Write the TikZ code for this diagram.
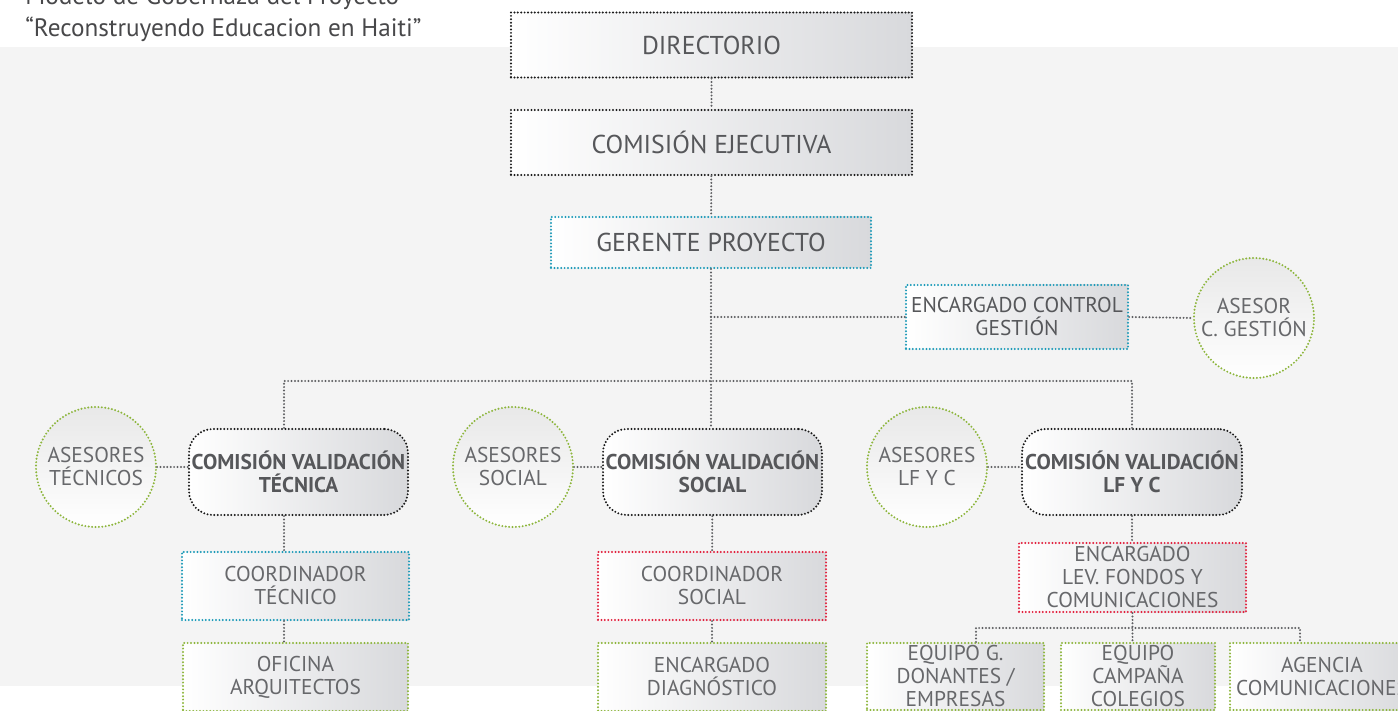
\documentclass[tikz,border=0pt]{standalone}
\usepackage{fontspec}
\setmainfont{PT Sans}
\usetikzlibrary{positioning}

\definecolor{txtgris}{HTML}{67686B}
\definecolor{txtosc}{HTML}{56575A}
\definecolor{titulogris}{HTML}{48484A}
\definecolor{lineagris}{HTML}{5E5F62}
\definecolor{bordeteal}{HTML}{1C9AB8}
\definecolor{bordered}{HTML}{E2203D}
\definecolor{bordeverde}{HTML}{8DB63C}
\definecolor{bordenegro}{HTML}{1A1A1A}
\definecolor{fondo}{HTML}{F4F4F4}
\definecolor{sombra}{HTML}{D8D9DC}

\begin{document}
\begin{tikzpicture}[x=0.5pt, y=-0.5pt,
  puntos/.style={line width=1.1pt, line cap=round, dash pattern=on 0pt off 1.7pt},
  caja/.style={puntos, left color=white, right color=sombra, align=center, text=txtgris,
    inner sep=0pt, font=\fontsize{10.7}{11.5}\selectfont},
  cajagrande/.style={caja, draw=bordenegro, text=txtosc, font=\fontsize{12.9}{14}\selectfont,
    minimum width=200.5pt, minimum height=32.5pt},
  comision/.style={caja, draw=bordenegro, rounded corners=12pt, text=txtosc,
    font=\bfseries\fontsize{10.7}{11.5}\selectfont, minimum width=109.5pt, minimum height=43pt},
  asesor/.style={circle, puntos, draw=bordeverde, top color=black!9, bottom color=white,
    minimum size=60pt, inner sep=0pt, align=center, text=txtgris,
    font=\fontsize{10.7}{11.5}\selectfont},
  conector/.style={draw=lineagris, line width=1.1pt, line cap=round, dash pattern=on 0pt off 1.7pt},
  titulo/.style={anchor=base west, inner sep=0pt, text=titulogris, font=\fontsize{12.6}{14}\selectfont}]

\useasboundingbox (0,0) rectangle (1398,711);
\clip (0,0) rectangle (1398,711);
\fill[fondo] (0,47) rectangle (1398,686);

% titulo
\node[titulo] (tit1) at (25,5) {Modelo de Gobernaza del Proyecto};
\node[titulo] (tit2) at (25,37) {“Reconstruyendo Educacion en Haiti”};

% direccion
\node[cajagrande] (dir) at (711.5,45) {DIRECTORIO};
\node[cajagrande] (ejec) at (711.5,142.5) {COMISIÓN EJECUTIVA};
\node[cajagrande, draw=bordeteal, minimum width=160pt, minimum height=25.5pt] (ger) at (711,242.5) {GERENTE PROYECTO};
\node[caja, draw=bordeteal, text=txtosc, minimum width=111pt, minimum height=32pt] (ctrl) at (1017,317) {ENCARGADO CONTROL\\GESTIÓN};
\node[asesor] (asc) at (1254,318) {ASESOR\\C. GESTIÓN};

% comisiones de validacion
\node[comision] (tec) at (298.5,472) {COMISIÓN VALIDACIÓN\\TÉCNICA};
\node[comision] (soc) at (712.5,472) {COMISIÓN VALIDACIÓN\\SOCIAL};
\node[comision, minimum width=110pt] (lfyc) at (1132,472) {COMISIÓN VALIDACIÓN\\LF Y C};
\node[asesor] (ast) at (96,467) {ASESORES\\TÉCNICOS};
\node[asesor] (ass) at (513,467) {ASESORES\\SOCIAL};
\node[asesor] (asl) at (927,467) {ASESORES\\LF Y C};

% coordinadores
\node[caja, draw=bordeteal, minimum width=113.5pt, minimum height=34pt] (cotec) at (295.5,586) {COORDINADOR\\TÉCNICO};
\node[caja, draw=bordered, minimum width=114pt, minimum height=34pt] (cosoc) at (712,586) {COORDINADOR\\SOCIAL};
\node[caja, draw=bordered, minimum width=113.5pt, minimum height=34.5pt] (enclev) at (1132.5,577.5) {ENCARGADO\\LEV. FONDOS Y\\COMUNICACIONES};

% equipos
\node[caja, draw=bordeverde, minimum width=112.5pt, minimum height=34pt] (ofi) at (295.5,677) {OFICINA\\ARQUITECTOS};
\node[caja, draw=bordeverde, minimum width=114pt, minimum height=34pt] (diag) at (712,677) {ENCARGADO\\DIAGNÓSTICO};
\node[caja, draw=bordeverde, minimum width=88.5pt, minimum height=33.5pt] (don) at (955.5,676.5) {EQUIPO G.\\DONANTES /\\EMPRESAS};
\node[caja, draw=bordeverde, minimum width=77pt, minimum height=33.5pt] (camp) at (1138,676.5) {EQUIPO\\CAMPAÑA\\COLEGIOS};
\node[caja, draw=bordeverde, minimum width=92pt, minimum height=33.5pt] (agen) at (1322,676.5) {AGENCIA\\COMUNICACIONES};

% ejes de conexion
\coordinate (ejeTec) at (284,381);
\coordinate (bus) at (711,381);
\coordinate (busL) at (976,628);
\coordinate (busR) at (1300,628);

\draw[conector] (dir) -- (ejec);
\draw[conector] (ejec) -- (ger);
\draw[conector] (ger.south) -- (soc.north -| ger.south);
\draw[conector] (ger.south |- ctrl.west) -- (ctrl.west);
\draw[conector] (ctrl.east) -- (asc.west);
\draw[conector] (tec.north -| ejeTec) |- (bus) -| (lfyc.north);
\draw[conector] (ast.east) -- (ast.east -| tec.west);
\draw[conector] (ass.east) -- (ass.east -| soc.west);
\draw[conector] (asl.east) -- (asl.east -| lfyc.west);
\draw[conector] (tec.south -| ejeTec) -- (cotec.north -| ejeTec);
\draw[conector] (cotec.south -| ejeTec) -- (ofi.north -| ejeTec);
\draw[conector] (soc) -- (cosoc);
\draw[conector] (cosoc) -- (diag);
\draw[conector] (lfyc.south) -- (enclev.north -| lfyc.south);
\draw[conector] (enclev.south) -- (camp.north -| enclev.south);
\draw[conector] (don.north -| busL) |- (busR) -- (agen.north -| busR);
\end{tikzpicture}
\end{document}
